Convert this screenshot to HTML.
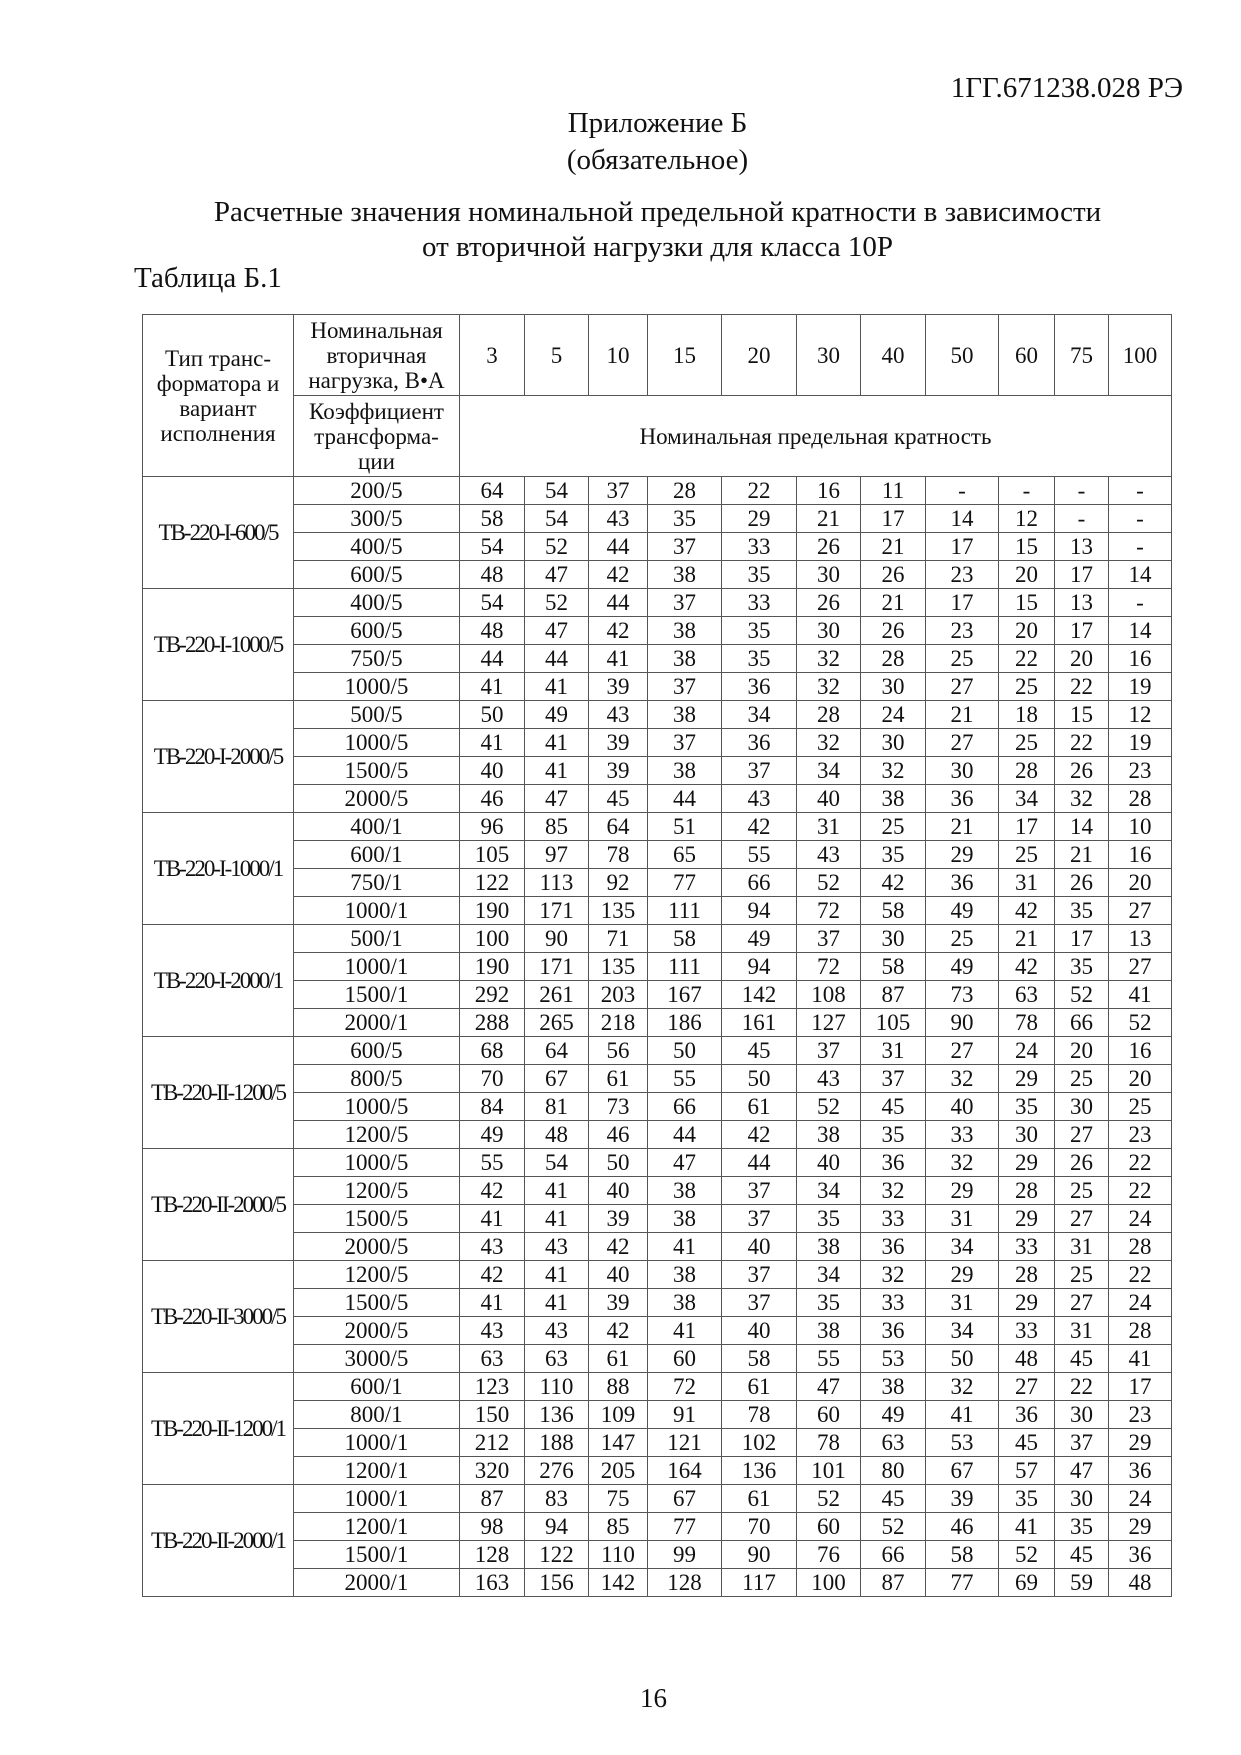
<!DOCTYPE html>
<html><head><meta charset="utf-8"><style>
body{margin:0;background:#fff;width:1241px;height:1755px;position:relative;font-family:"Liberation Serif","DejaVu Serif",serif;color:#111;overflow:hidden}
.t{position:absolute;white-space:nowrap;font-size:29px}
.c{left:37px;width:1241px;text-align:center}
table{position:absolute;left:142px;top:314px;border-collapse:collapse;table-layout:fixed;font-size:23px}
td{border:1.5px solid #555;text-align:center;padding:0;line-height:25px;height:27px;overflow:hidden;white-space:nowrap}
.h td{height:80px}
.n{letter-spacing:-2px;font-size:23px}
</style></head><body>
<div class="t" style="right:58px;top:72px">1ГГ.671238.028 РЭ</div>
<div class="t c" style="top:107px">Приложение Б</div>
<div class="t c" style="top:144px">(обязательное)</div>
<div class="t c" style="top:196px">Расчетные значения номинальной предельной кратности в зависимости</div>
<div class="t c" style="top:231px">от вторичной нагрузки для класса 10Р</div>
<div class="t" style="left:134px;top:262px">Таблица Б.1</div>
<table>
<colgroup><col style="width:151px"><col style="width:166px"><col style="width:65px"><col style="width:64px"><col style="width:59px"><col style="width:74px"><col style="width:75px"><col style="width:64px"><col style="width:65px"><col style="width:73px"><col style="width:56px"><col style="width:54px"><col style="width:63px"></colgroup>
<tr class="h"><td rowspan="2">Тип транс-<br>форматора и<br>вариант<br>исполнения</td><td>Номинальная<br>вторичная<br>нагрузка, В•А</td><td>3</td><td>5</td><td>10</td><td>15</td><td>20</td><td>30</td><td>40</td><td>50</td><td>60</td><td>75</td><td>100</td></tr>
<tr class="h"><td>Коэффициент<br>трансформа-<br>ции</td><td colspan="11">Номинальная предельная кратность</td></tr>
<tr><td rowspan="4" class="n">ТВ-220-I-600/5</td><td>200/5</td><td>64</td><td>54</td><td>37</td><td>28</td><td>22</td><td>16</td><td>11</td><td>-</td><td>-</td><td>-</td><td>-</td></tr>
<tr><td>300/5</td><td>58</td><td>54</td><td>43</td><td>35</td><td>29</td><td>21</td><td>17</td><td>14</td><td>12</td><td>-</td><td>-</td></tr>
<tr><td>400/5</td><td>54</td><td>52</td><td>44</td><td>37</td><td>33</td><td>26</td><td>21</td><td>17</td><td>15</td><td>13</td><td>-</td></tr>
<tr><td>600/5</td><td>48</td><td>47</td><td>42</td><td>38</td><td>35</td><td>30</td><td>26</td><td>23</td><td>20</td><td>17</td><td>14</td></tr>
<tr><td rowspan="4" class="n">ТВ-220-I-1000/5</td><td>400/5</td><td>54</td><td>52</td><td>44</td><td>37</td><td>33</td><td>26</td><td>21</td><td>17</td><td>15</td><td>13</td><td>-</td></tr>
<tr><td>600/5</td><td>48</td><td>47</td><td>42</td><td>38</td><td>35</td><td>30</td><td>26</td><td>23</td><td>20</td><td>17</td><td>14</td></tr>
<tr><td>750/5</td><td>44</td><td>44</td><td>41</td><td>38</td><td>35</td><td>32</td><td>28</td><td>25</td><td>22</td><td>20</td><td>16</td></tr>
<tr><td>1000/5</td><td>41</td><td>41</td><td>39</td><td>37</td><td>36</td><td>32</td><td>30</td><td>27</td><td>25</td><td>22</td><td>19</td></tr>
<tr><td rowspan="4" class="n">ТВ-220-I-2000/5</td><td>500/5</td><td>50</td><td>49</td><td>43</td><td>38</td><td>34</td><td>28</td><td>24</td><td>21</td><td>18</td><td>15</td><td>12</td></tr>
<tr><td>1000/5</td><td>41</td><td>41</td><td>39</td><td>37</td><td>36</td><td>32</td><td>30</td><td>27</td><td>25</td><td>22</td><td>19</td></tr>
<tr><td>1500/5</td><td>40</td><td>41</td><td>39</td><td>38</td><td>37</td><td>34</td><td>32</td><td>30</td><td>28</td><td>26</td><td>23</td></tr>
<tr><td>2000/5</td><td>46</td><td>47</td><td>45</td><td>44</td><td>43</td><td>40</td><td>38</td><td>36</td><td>34</td><td>32</td><td>28</td></tr>
<tr><td rowspan="4" class="n">ТВ-220-I-1000/1</td><td>400/1</td><td>96</td><td>85</td><td>64</td><td>51</td><td>42</td><td>31</td><td>25</td><td>21</td><td>17</td><td>14</td><td>10</td></tr>
<tr><td>600/1</td><td>105</td><td>97</td><td>78</td><td>65</td><td>55</td><td>43</td><td>35</td><td>29</td><td>25</td><td>21</td><td>16</td></tr>
<tr><td>750/1</td><td>122</td><td>113</td><td>92</td><td>77</td><td>66</td><td>52</td><td>42</td><td>36</td><td>31</td><td>26</td><td>20</td></tr>
<tr><td>1000/1</td><td>190</td><td>171</td><td>135</td><td>111</td><td>94</td><td>72</td><td>58</td><td>49</td><td>42</td><td>35</td><td>27</td></tr>
<tr><td rowspan="4" class="n">ТВ-220-I-2000/1</td><td>500/1</td><td>100</td><td>90</td><td>71</td><td>58</td><td>49</td><td>37</td><td>30</td><td>25</td><td>21</td><td>17</td><td>13</td></tr>
<tr><td>1000/1</td><td>190</td><td>171</td><td>135</td><td>111</td><td>94</td><td>72</td><td>58</td><td>49</td><td>42</td><td>35</td><td>27</td></tr>
<tr><td>1500/1</td><td>292</td><td>261</td><td>203</td><td>167</td><td>142</td><td>108</td><td>87</td><td>73</td><td>63</td><td>52</td><td>41</td></tr>
<tr><td>2000/1</td><td>288</td><td>265</td><td>218</td><td>186</td><td>161</td><td>127</td><td>105</td><td>90</td><td>78</td><td>66</td><td>52</td></tr>
<tr><td rowspan="4" class="n">ТВ-220-II-1200/5</td><td>600/5</td><td>68</td><td>64</td><td>56</td><td>50</td><td>45</td><td>37</td><td>31</td><td>27</td><td>24</td><td>20</td><td>16</td></tr>
<tr><td>800/5</td><td>70</td><td>67</td><td>61</td><td>55</td><td>50</td><td>43</td><td>37</td><td>32</td><td>29</td><td>25</td><td>20</td></tr>
<tr><td>1000/5</td><td>84</td><td>81</td><td>73</td><td>66</td><td>61</td><td>52</td><td>45</td><td>40</td><td>35</td><td>30</td><td>25</td></tr>
<tr><td>1200/5</td><td>49</td><td>48</td><td>46</td><td>44</td><td>42</td><td>38</td><td>35</td><td>33</td><td>30</td><td>27</td><td>23</td></tr>
<tr><td rowspan="4" class="n">ТВ-220-II-2000/5</td><td>1000/5</td><td>55</td><td>54</td><td>50</td><td>47</td><td>44</td><td>40</td><td>36</td><td>32</td><td>29</td><td>26</td><td>22</td></tr>
<tr><td>1200/5</td><td>42</td><td>41</td><td>40</td><td>38</td><td>37</td><td>34</td><td>32</td><td>29</td><td>28</td><td>25</td><td>22</td></tr>
<tr><td>1500/5</td><td>41</td><td>41</td><td>39</td><td>38</td><td>37</td><td>35</td><td>33</td><td>31</td><td>29</td><td>27</td><td>24</td></tr>
<tr><td>2000/5</td><td>43</td><td>43</td><td>42</td><td>41</td><td>40</td><td>38</td><td>36</td><td>34</td><td>33</td><td>31</td><td>28</td></tr>
<tr><td rowspan="4" class="n">ТВ-220-II-3000/5</td><td>1200/5</td><td>42</td><td>41</td><td>40</td><td>38</td><td>37</td><td>34</td><td>32</td><td>29</td><td>28</td><td>25</td><td>22</td></tr>
<tr><td>1500/5</td><td>41</td><td>41</td><td>39</td><td>38</td><td>37</td><td>35</td><td>33</td><td>31</td><td>29</td><td>27</td><td>24</td></tr>
<tr><td>2000/5</td><td>43</td><td>43</td><td>42</td><td>41</td><td>40</td><td>38</td><td>36</td><td>34</td><td>33</td><td>31</td><td>28</td></tr>
<tr><td>3000/5</td><td>63</td><td>63</td><td>61</td><td>60</td><td>58</td><td>55</td><td>53</td><td>50</td><td>48</td><td>45</td><td>41</td></tr>
<tr><td rowspan="4" class="n">ТВ-220-II-1200/1</td><td>600/1</td><td>123</td><td>110</td><td>88</td><td>72</td><td>61</td><td>47</td><td>38</td><td>32</td><td>27</td><td>22</td><td>17</td></tr>
<tr><td>800/1</td><td>150</td><td>136</td><td>109</td><td>91</td><td>78</td><td>60</td><td>49</td><td>41</td><td>36</td><td>30</td><td>23</td></tr>
<tr><td>1000/1</td><td>212</td><td>188</td><td>147</td><td>121</td><td>102</td><td>78</td><td>63</td><td>53</td><td>45</td><td>37</td><td>29</td></tr>
<tr><td>1200/1</td><td>320</td><td>276</td><td>205</td><td>164</td><td>136</td><td>101</td><td>80</td><td>67</td><td>57</td><td>47</td><td>36</td></tr>
<tr><td rowspan="4" class="n">ТВ-220-II-2000/1</td><td>1000/1</td><td>87</td><td>83</td><td>75</td><td>67</td><td>61</td><td>52</td><td>45</td><td>39</td><td>35</td><td>30</td><td>24</td></tr>
<tr><td>1200/1</td><td>98</td><td>94</td><td>85</td><td>77</td><td>70</td><td>60</td><td>52</td><td>46</td><td>41</td><td>35</td><td>29</td></tr>
<tr><td>1500/1</td><td>128</td><td>122</td><td>110</td><td>99</td><td>90</td><td>76</td><td>66</td><td>58</td><td>52</td><td>45</td><td>36</td></tr>
<tr><td>2000/1</td><td>163</td><td>156</td><td>142</td><td>128</td><td>117</td><td>100</td><td>87</td><td>77</td><td>69</td><td>59</td><td>48</td></tr>
</table>
<div class="t" style="left:640px;top:1683px;font-size:27px">16</div>
</body></html>
